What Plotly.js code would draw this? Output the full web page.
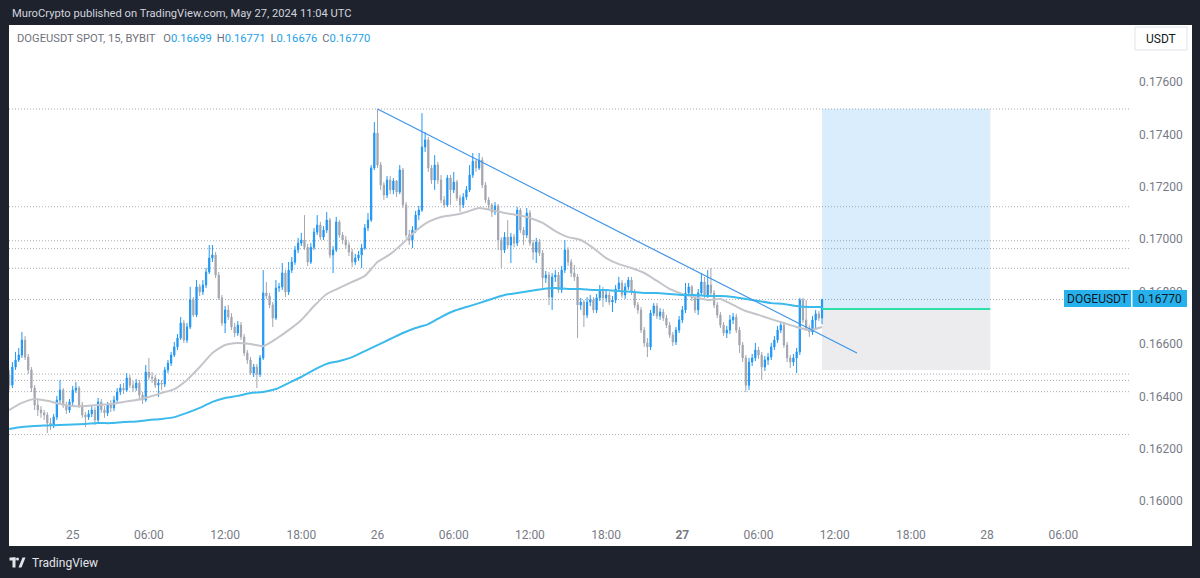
<!DOCTYPE html>
<html><head><meta charset="utf-8">
<script src="https://cdn.plot.ly/plotly-3.0.1.min.js"></script>
<style>html,body{margin:0;padding:0;background:#1e222d;overflow:hidden}#chart{width:1200px;height:578px}</style>
</head><body><div id="chart"></div>
<script>
// ---------------- DATA ----------------
const headerText = 'MuroCrypto published on TradingView.com, May 27, 2024 11:04 UTC';
const symbolTitle = 'DOGEUSDT SPOT, 15, BYBIT';
const ohlcLegend = {O: '0.16699', H: '0.16771', L: '0.16676', C: '0.16770'};
const firstBarTime = '2024-05-24T19:00:00Z';
const barMinutes = 15;
const firstOpen = 0.16482;
const close = [
0.16443,0.16512,0.16539,0.16558,0.16615,0.16550,0.16501,0.16432,0.16367,0.16348,
0.16337,0.16329,0.16298,0.16291,0.16321,0.16386,0.16424,0.16367,0.16348,0.16379,
0.16424,0.16432,0.16367,0.16329,0.16321,0.16333,0.16348,0.16310,0.16379,0.16348,
0.16337,0.16367,0.16356,0.16386,0.16417,0.16432,0.16424,0.16470,0.16443,0.16432,
0.16451,0.16405,0.16386,0.16493,0.16474,0.16470,0.16443,0.16451,0.16447,0.16501,
0.16527,0.16558,0.16589,0.16623,0.16680,0.16615,0.16665,0.16768,0.16711,0.16818,
0.16799,0.16825,0.16875,0.16928,0.16940,0.16863,0.16776,0.16680,0.16730,0.16703,
0.16665,0.16642,0.16672,0.16627,0.16566,0.16539,0.16489,0.16512,0.16485,0.16547,
0.16795,0.16783,0.16749,0.16699,0.16814,0.16818,0.16871,0.16799,0.16882,0.16913,
0.16959,0.16985,0.16997,0.16969,0.16913,0.16969,0.17027,0.17054,0.17008,0.17035,
0.17073,0.16940,0.16959,0.17066,0.17016,0.16997,0.16978,0.16951,0.16913,0.16928,
0.16940,0.16966,0.17043,0.17073,0.17272,0.17405,0.17283,0.17207,0.17169,0.17226,
0.17188,0.17222,0.17180,0.17264,0.17131,0.17016,0.16997,0.17035,0.17092,0.17111,
0.17352,0.17379,0.17272,0.17226,0.17283,0.17226,0.17150,0.17131,0.17234,0.17188,
0.17218,0.17157,0.17131,0.17161,0.17188,0.17245,0.17298,0.17272,0.17302,0.17207,
0.17150,0.17131,0.17104,0.17127,0.16997,0.16959,0.17008,0.16978,0.17008,0.16985,
0.17111,0.17035,0.17016,0.17100,0.16985,0.16951,0.16989,0.16947,0.16852,0.16863,
0.16779,0.16856,0.16863,0.16806,0.16882,0.16959,0.16913,0.16871,0.16856,0.16749,
0.16760,0.16711,0.16760,0.16768,0.16730,0.16776,0.16806,0.16776,0.16787,0.16760,
0.16768,0.16810,0.16833,0.16787,0.16818,0.16844,0.16799,0.16749,0.16730,0.16653,
0.16604,0.16589,0.16718,0.16745,0.16707,0.16722,0.16699,0.16672,0.16634,0.16608,
0.16653,0.16692,0.16730,0.16795,0.16818,0.16776,0.16730,0.16795,0.16837,0.16787,
0.16825,0.16795,0.16749,0.16711,0.16672,0.16642,0.16653,0.16692,0.16703,0.16653,
0.16596,0.16547,0.16443,0.16531,0.16547,0.16577,0.16558,0.16512,0.16539,0.16550,
0.16589,0.16615,0.16653,0.16672,0.16596,0.16547,0.16531,0.16547,0.16570,0.16768,
0.16692,0.16661,0.16646,0.16692,0.16715,0.16699,0.16770];
const high = [
0.16501,0.16531,0.16570,0.16585,0.16646,0.16631,0.16562,0.16512,0.16443,0.16386,
0.16363,0.16348,0.16340,0.16318,0.16333,0.16402,0.16463,0.16432,0.16379,0.16390,
0.16440,0.16455,0.16440,0.16379,0.16340,0.16348,0.16367,0.16360,0.16394,0.16390,
0.16363,0.16379,0.16386,0.16402,0.16432,0.16447,0.16451,0.16489,0.16482,0.16459,
0.16466,0.16463,0.16417,0.16520,0.16547,0.16493,0.16482,0.16466,0.16463,0.16512,
0.16539,0.16570,0.16608,0.16638,0.16703,0.16692,0.16680,0.16818,0.16779,0.16844,
0.16829,0.16844,0.16890,0.16978,0.16978,0.16951,0.16875,0.16787,0.16745,0.16749,
0.16718,0.16680,0.16688,0.16684,0.16638,0.16577,0.16550,0.16524,0.16524,0.16558,
0.16882,0.16837,0.16795,0.16760,0.16844,0.16833,0.16909,0.16882,0.16913,0.16932,
0.16974,0.17005,0.17024,0.17092,0.16982,0.16985,0.17043,0.17092,0.17066,0.17050,
0.17104,0.17081,0.16974,0.17085,0.17073,0.17027,0.17012,0.16989,0.16963,0.16944,
0.16955,0.16982,0.17058,0.17100,0.17283,0.17447,0.17497,0.17295,0.17218,0.17241,
0.17241,0.17233,0.17226,0.17283,0.17272,0.17142,0.17035,0.17050,0.17108,0.17127,
0.17481,0.17409,0.17390,0.17283,0.17321,0.17295,0.17245,0.17165,0.17245,0.17245,
0.17257,0.17226,0.17169,0.17176,0.17203,0.17283,0.17329,0.17302,0.17329,0.17314,
0.17218,0.17161,0.17138,0.17142,0.17134,0.17008,0.17027,0.17073,0.17024,0.17020,
0.17123,0.17119,0.17047,0.17119,0.17111,0.16997,0.17005,0.17001,0.16959,0.16879,
0.16875,0.16871,0.16882,0.16875,0.16898,0.16997,0.16969,0.16924,0.16902,0.16867,
0.16776,0.16768,0.16779,0.16787,0.16779,0.16791,0.16825,0.16818,0.16806,0.16799,
0.16783,0.16825,0.16856,0.16844,0.16833,0.16856,0.16856,0.16810,0.16760,0.16741,
0.16665,0.16623,0.16730,0.16756,0.16756,0.16737,0.16734,0.16711,0.16684,0.16646,
0.16665,0.16707,0.16745,0.16833,0.16833,0.16825,0.16787,0.16810,0.16871,0.16856,
0.16882,0.16890,0.16806,0.16760,0.16722,0.16684,0.16669,0.16711,0.16718,0.16715,
0.16665,0.16608,0.16558,0.16547,0.16562,0.16604,0.16589,0.16570,0.16554,0.16566,
0.16604,0.16631,0.16669,0.16684,0.16680,0.16608,0.16558,0.16562,0.16585,0.16776,
0.16776,0.16768,0.16672,0.16707,0.16730,0.16726,0.16771];
const low = [
0.16424,0.16432,0.16501,0.16531,0.16547,0.16539,0.16485,0.16417,0.16348,0.16325,
0.16318,0.16310,0.16260,0.16272,0.16279,0.16310,0.16375,0.16356,0.16333,0.16337,
0.16367,0.16413,0.16356,0.16318,0.16283,0.16310,0.16321,0.16291,0.16295,0.16337,
0.16318,0.16325,0.16340,0.16344,0.16375,0.16405,0.16409,0.16417,0.16432,0.16417,
0.16421,0.16390,0.16371,0.16379,0.16463,0.16451,0.16432,0.16398,0.16424,0.16436,
0.16489,0.16516,0.16550,0.16577,0.16615,0.16604,0.16604,0.16657,0.16703,0.16703,
0.16783,0.16787,0.16814,0.16867,0.16913,0.16852,0.16768,0.16669,0.16642,0.16692,
0.16653,0.16627,0.16631,0.16615,0.16554,0.16524,0.16482,0.16474,0.16432,0.16474,
0.16539,0.16772,0.16737,0.16665,0.16692,0.16799,0.16806,0.16779,0.16787,0.16871,
0.16902,0.16947,0.16974,0.16959,0.16898,0.16905,0.16959,0.17016,0.16997,0.16997,
0.17024,0.16928,0.16871,0.16951,0.17005,0.16982,0.16963,0.16936,0.16894,0.16902,
0.16917,0.16890,0.16959,0.17031,0.17066,0.17264,0.17272,0.17188,0.17150,0.17157,
0.17172,0.17172,0.17161,0.17172,0.17119,0.17005,0.16978,0.16966,0.17024,0.17073,
0.17104,0.17333,0.17257,0.17211,0.17188,0.17211,0.17138,0.17119,0.17123,0.17131,
0.17176,0.17146,0.17104,0.17119,0.17150,0.17180,0.17234,0.17257,0.17264,0.17195,
0.17138,0.17115,0.17085,0.17092,0.16959,0.16890,0.16947,0.16966,0.16909,0.16969,
0.16974,0.17024,0.16978,0.17005,0.16974,0.16921,0.16909,0.16936,0.16814,0.16833,
0.16749,0.16730,0.16837,0.16795,0.16795,0.16871,0.16898,0.16856,0.16841,0.16623,
0.16730,0.16665,0.16699,0.16745,0.16718,0.16718,0.16764,0.16741,0.16760,0.16749,
0.16722,0.16756,0.16799,0.16776,0.16772,0.16806,0.16787,0.16737,0.16715,0.16642,
0.16589,0.16550,0.16577,0.16707,0.16695,0.16692,0.16688,0.16661,0.16623,0.16592,
0.16596,0.16642,0.16680,0.16718,0.16783,0.16764,0.16718,0.16711,0.16783,0.16776,
0.16776,0.16783,0.16737,0.16699,0.16661,0.16631,0.16623,0.16638,0.16676,0.16642,
0.16566,0.16531,0.16417,0.16424,0.16516,0.16535,0.16543,0.16463,0.16497,0.16520,
0.16539,0.16577,0.16604,0.16642,0.16585,0.16531,0.16508,0.16516,0.16489,0.16558,
0.16680,0.16650,0.16627,0.16634,0.16653,0.16688,0.16676];
// moving averages, one reading per hour starting at the first bar
const maStepMinutes = 60;
const maGray = [
16348,16375,16390,16383,16371,16363,16363,16367,16371,16379,
16386,16398,16413,16428,16463,16512,16566,16596,16604,16600,
16592,16619,16653,16692,16745,16791,16814,16837,16860,16913,
16943,16985,17031,17066,17085,17092,17104,17119,17111,17100,
17092,17081,17062,17031,17008,16997,16966,16928,16905,16890,
16871,16841,16810,16791,16779,16768,16772,16749,16726,16711,
16695,16680,16665,16653,16665].map(v => v / 1e5);
const maCyan = [
16276,16283,16287,16289,16291,16293,16295,16298,16298,16302,
16304,16310,16314,16321,16337,16356,16379,16394,16402,16413,
16417,16428,16451,16474,16501,16524,16535,16550,16573,16596,
16619,16642,16661,16676,16703,16726,16741,16756,16772,16787,
16795,16802,16810,16814,16810,16810,16806,16806,16802,16799,
16795,16795,16791,16787,16787,16783,16783,16779,16772,16764,
16756,16753,16745,16741,16741].map(v => v / 1e5);
// horizontal levels (dotted)
const levels = [0.17497, 0.17124, 0.16994, 0.16964, 0.16889, 0.16485, 0.16461, 0.16418, 0.16254];
const lastPrice = 0.16770;
const trendStart = ['2024-05-26 00:00', 0.17497];
const trendEnd = ['2024-05-27 13:45', 0.16566];
const posStart = '2024-05-27 11:00', posEnd = '2024-05-28 00:15';
const posTarget = 0.17497, posEntry = 0.16734, posStop = 0.16501;
const xTickVals = ['2024-05-25 00:00','2024-05-25 06:00','2024-05-25 12:00','2024-05-25 18:00',
  '2024-05-26 00:00','2024-05-26 06:00','2024-05-26 12:00','2024-05-26 18:00',
  '2024-05-27 00:00','2024-05-27 06:00','2024-05-27 12:00','2024-05-27 18:00',
  '2024-05-28 00:00','2024-05-28 06:00'];
const xTickText = ['25','06:00','12:00','18:00','26','06:00','12:00','18:00','<b>27</b>','06:00','12:00','18:00','28','06:00'];
const yTickVals = [0.160,0.162,0.164,0.166,0.168,0.170,0.172,0.174,0.176];

// ---------------- BUILD ----------------
function fmt(ms){const d=new Date(ms);const p=n=>String(n).padStart(2,'0');
  return d.getUTCFullYear()+'-'+p(d.getUTCMonth()+1)+'-'+p(d.getUTCDate())+' '+p(d.getUTCHours())+':'+p(d.getUTCMinutes());}
const t0 = Date.parse(firstBarTime);
const barTimes = close.map((_, i) => fmt(t0 + i * barMinutes * 60000));
const open = close.map((_, i) => i === 0 ? firstOpen : close[i - 1]);
const maTimes = maGray.map((_, i) => fmt(t0 + i * maStepMinutes * 60000));

const W=1200,H=578, L=9, R=1130, T=25, B=522;
const px = v => (v-L)/(R-L), py = v => (B-v)/(B-T);
const UP='#2196f3', DOWN='#a3a6ae';
const FONT='Roboto, "Open Sans", sans-serif';
const DOT={color:'#a9acb4', width:1, dash:'1px,2px'};

const traces = [
  {type:'scatter', mode:'lines', x:maTimes, y:maGray, line:{color:'#c3c5cb', width:2, shape:'spline', smoothing:0.6}, hoverinfo:'skip'},
  {type:'scatter', mode:'lines', x:maTimes, y:maCyan, line:{color:'#3cbaec', width:2, shape:'spline', smoothing:0.6}, hoverinfo:'skip'},
  {type:'candlestick', x:barTimes, open:open, high:high, low:low, close:close,
   increasing:{line:{color:UP, width:1}, fillcolor:UP},
   decreasing:{line:{color:DOWN, width:1}, fillcolor:DOWN},
   whiskerwidth:0, hoverinfo:'skip'}
];

const shapes = [];
shapes.push({type:'rect', xref:'paper', yref:'paper', x0:px(9), x1:px(1192), y0:py(546), y1:py(25), fillcolor:'#ffffff', line:{width:0}, layer:'below'});
levels.forEach(v => shapes.push({type:'line', xref:'paper', yref:'y', x0:0, x1:1, y0:v, y1:v, line:DOT, layer:'below'}));
shapes.push({type:'line', xref:'paper', yref:'y', x0:0, x1:1, y0:lastPrice, y1:lastPrice, line:DOT, layer:'below'});
shapes.push({type:'rect', xref:'x', yref:'y', x0:posStart, x1:posEnd, y0:posEntry, y1:posTarget, fillcolor:'rgba(33,150,243,0.17)', line:{width:0}, layer:'below'});
shapes.push({type:'rect', xref:'x', yref:'y', x0:posStart, x1:posEnd, y0:posStop, y1:posEntry, fillcolor:'rgba(120,123,134,0.14)', line:{width:0}, layer:'below'});
shapes.push({type:'line', xref:'x', yref:'y', x0:posStart, x1:posEnd, y0:posEntry, y1:posEntry, line:{color:'#2ee0a8', width:2}, layer:'above'});
shapes.push({type:'line', xref:'x', yref:'y', x0:trendStart[0], y0:trendStart[1], x1:trendEnd[0], y1:trendEnd[1], line:{color:'#3d94e8', width:1.2}, layer:'above'});
// USDT box
shapes.push({type:'rect', xref:'paper', yref:'paper', x0:px(1135), x1:px(1187), y0:py(50), y1:py(27), fillcolor:'#ffffff', line:{color:'#e0e3eb', width:1}, layer:'above'});
// last price tag
shapes.push({type:'rect', xref:'paper', yref:'paper', x0:px(1064), x1:px(1131), y0:py(307), y1:py(290), fillcolor:'#27b1ec', line:{width:0}, layer:'above'});
shapes.push({type:'rect', xref:'paper', yref:'paper', x0:px(1132.5), x1:px(1187), y0:py(307), y1:py(290), fillcolor:'#27b1ec', line:{width:0}, layer:'above'});
// TradingView logo
const LOGO='#e3e5ea';
shapes.push({type:'rect', xref:'paper', yref:'paper', x0:px(9.5), x1:px(15.5), y0:py(560.5), y1:py(557.5), fillcolor:LOGO, line:{width:0}});
shapes.push({type:'rect', xref:'paper', yref:'paper', x0:px(12.5), x1:px(15.5), y0:py(567.5), y1:py(557.5), fillcolor:LOGO, line:{width:0}});
shapes.push({type:'circle', xref:'paper', yref:'paper', x0:px(16), x1:px(19), y0:py(560.5), y1:py(557.5), fillcolor:LOGO, line:{width:0}});
shapes.push({type:'path', xref:'paper', yref:'paper', path:`M ${px(18.5)},${py(567.5)} L ${px(21.5)},${py(567.5)} L ${px(25.5)},${py(557.5)} L ${px(22.5)},${py(557.5)} Z`, fillcolor:LOGO, line:{width:0}});

const BLUE_TXT='#229fe8', GRAY_TXT='#6f727c';
const sp = s => `<span style="color:${BLUE_TXT}">${s}</span>`;
const G1='&nbsp;&nbsp;&#8201;', G2='&nbsp;&#8201;';
const legendText = `${symbolTitle}${G1}O${sp(ohlcLegend.O)}${G2}H${sp(ohlcLegend.H)}${G2}L${sp(ohlcLegend.L)}${G2}C${sp(ohlcLegend.C)}`;

const annotations = [
  {xref:'paper', yref:'paper', x:px(10), y:py(13), xanchor:'left', yanchor:'middle', showarrow:false, text:headerText, font:{family:FONT, size:11.2, color:'#d1d4dc'}},
  {xref:'paper', yref:'paper', x:px(15), y:py(39), xanchor:'left', yanchor:'middle', showarrow:false, text:legendText, font:{family:FONT, size:11.2, color:GRAY_TXT}},
  {xref:'paper', yref:'paper', x:px(1161), y:py(39), xanchor:'center', yanchor:'middle', showarrow:false, text:'USDT', font:{family:FONT, size:12, color:'#131722'}},
  {xref:'paper', yref:'paper', x:px(1097.5), y:py(298.5), xanchor:'center', yanchor:'middle', showarrow:false, text:'DOGEUSDT', font:{family:FONT, size:12, color:'#0f1a26'}},
  {xref:'paper', yref:'paper', x:px(1160), y:py(298.5), xanchor:'center', yanchor:'middle', showarrow:false, text:lastPrice.toFixed(5), font:{family:FONT, size:12, color:'#0f1a26'}},
  {xref:'paper', yref:'paper', x:px(30), y:py(563), xanchor:'left', yanchor:'middle', showarrow:false, text:'TradingView', font:{family:FONT, size:12, color:'#e3e5ea'}}
];

const layout = {
  width:W, height:H, margin:{l:L, r:W-R, t:T, b:H-B, pad:0},
  paper_bgcolor:'#1e222d', plot_bgcolor:'#ffffff', showlegend:false,
  boxgap:0.45,
  font:{family:FONT},
  xaxis:{type:'date', range:['2024-05-24 18:59','2024-05-28 11:15'], tickmode:'array', tickvals:xTickVals, ticktext:xTickText,
    showgrid:false, zeroline:false, showline:false, ticks:'', tickfont:{family:FONT, size:12, color:'#787b86'},
    rangeslider:{visible:false}, fixedrange:true, ticklabelstandoff:4},
  yaxis:{side:'right', range:[0.159206, 0.178176], tickmode:'array', tickvals:yTickVals, ticktext:yTickVals.map(v=>v.toFixed(5)),
    showgrid:false, zeroline:false, showline:false, ticks:'', tickfont:{family:FONT, size:12, color:'#787b86'}, fixedrange:true, ticklabelstandoff:8},
  shapes, annotations
};
Plotly.newPlot('chart', traces, layout, {staticPlot:true, displayModeBar:false});
</script></body></html>
